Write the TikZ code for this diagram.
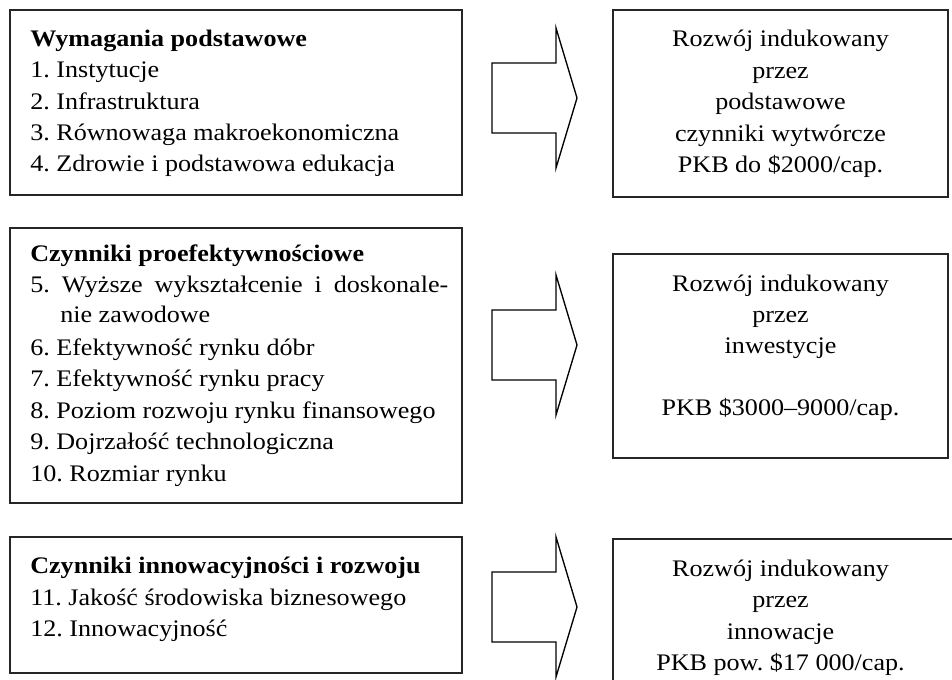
\documentclass[tikz,border=0pt]{standalone}
\usepackage{fontspec}
\setmainfont[FakeStretch=1.1]{Liberation Serif}
\frenchspacing
\begin{document}
\begin{tikzpicture}[x=0.75pt,y=-0.75pt,
  box/.style={draw=black!85,line width=1.4pt},
  barrow/.style={draw=black,line width=1pt,line join=miter},
  txt/.style={anchor=base west,inner sep=0pt,font=\fontsize{17.8}{22}\selectfont},
  ctxt/.style={anchor=base,inner sep=0pt,font=\fontsize{17.8}{22}\selectfont},
  head/.style={txt,font=\fontsize{17.8}{22}\selectfont\bfseries}]
\useasboundingbox (0,0) rectangle (952,680);
\clip (0,0) rectangle (952,680);
% left boxes
\draw[box] (10,10) rectangle (462,195);
\draw[box] (10,228) rectangle (462,503);
\draw[box] (10,537) rectangle (462,673);
% right boxes
\draw[box] (613,10) rectangle (948,197);
\draw[box] (613,254) rectangle (948,458);
\draw[box] (613,539) rectangle (960,700);
% block arrows
\foreach \n/\c in {a1/98,a2/345,a3/607}{
  \coordinate (\n) at (492,\c);
  \draw[barrow] (492,\c-35) -- (556,\c-35) -- (556,\c-70) -- (577,\c) -- (556,\c+70) -- (556,\c+35) -- (492,\c+35) -- cycle;
}
% box 1 text
\node[head] (h1) at (30,47) {Wymagania podstawowe};
\node[txt] (t1) at (30,78) {1. Instytucje};
\node[txt] (t2) at (30,109.5) {2. Infrastruktura};
\node[txt] (t3) at (30,141) {3. Równowaga makroekonomiczna};
\node[txt] (t4) at (30,172) {4. Zdrowie i podstawowa edukacja};
% box 2 text
\node[head] (h2) at (30,262) {Czynniki proefektywnościowe};
\node[txt] (t5) at (30,293) {\makebox[313.5pt][s]{5. Wyższe wykształcenie i doskonale-}};
\node[txt] (t5b) at (60,323) {nie zawodowe};
\node[txt] (t6) at (30,356) {6. Efektywność rynku dóbr};
\node[txt] (t7) at (30,387) {7. Efektywność rynku pracy};
\node[txt] (t8) at (30,418) {8. Poziom rozwoju rynku finansowego};
\node[txt] (t9) at (30,449) {9. Dojrzałość technologiczna};
\node[txt] (t10) at (30,481) {10. Rozmiar rynku};
% box 3 text
\node[head] (h3) at (30,573) {Czynniki innowacyjności i rozwoju};
\node[txt] (t11) at (30,605) {11. Jakość środowiska biznesowego};
\node[txt] (t12) at (30,636) {12. Innowacyjność};
% right box 1 text
\node[ctxt] (r1a) at (780.5,47) {Rozwój indukowany};
\node[ctxt] (r1b) at (780.5,78.5) {przez};
\node[ctxt] (r1c) at (780.5,110) {podstawowe};
\node[ctxt] (r1d) at (780.5,141.5) {czynniki wytwórcze};
\node[ctxt] (r1e) at (780.5,173) {PKB do \$2000/cap.};
% right box 2 text
\node[ctxt] (r2a) at (780.5,292) {Rozwój indukowany};
\node[ctxt] (r2b) at (780.5,323) {przez};
\node[ctxt] (r2c) at (780.5,354) {inwestycje};
\node[ctxt] (r2d) at (780.5,416) {PKB \$3000–9000/cap.};
% right box 3 text
\node[ctxt] (r3a) at (780.5,576) {Rozwój indukowany};
\node[ctxt] (r3b) at (780.5,607) {przez};
\node[ctxt] (r3c) at (780.5,639) {innowacje};
\node[ctxt] (r3d) at (780.5,670) {PKB pow. \$17~000/cap.};
\end{tikzpicture}
\end{document}
